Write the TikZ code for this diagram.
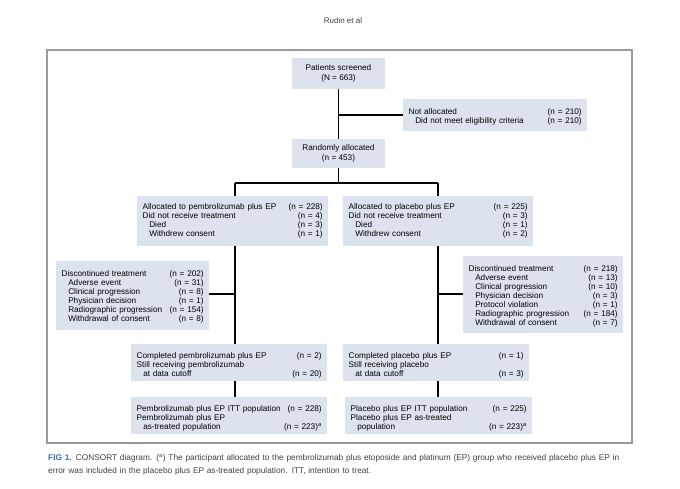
\documentclass[tikz,border=0pt]{standalone}
\usepackage{fontspec}
\setmainfont{Liberation Sans}
\definecolor{boxfill}{HTML}{DCE3EF}
\definecolor{figblue}{HTML}{2F6DB5}
\definecolor{framegray}{HTML}{9A9A9A}
\newcommand{\rw}[2]{\par\noindent\hbox to \linewidth{#1\hfill #2}}
\newcommand{\ind}{\hspace*{0.8em}}
\begin{document}
\begin{tikzpicture}[x=1pt,y=-1pt,
  cbox/.style={fill=none,draw=none,inner sep=0pt,font=\fontsize{8.2}{9.1}\selectfont,align=left},
  conn/.style={draw=black,line width=1.3pt},
  tbox/.style={font=\fontsize{8.2}{10.5}\selectfont,align=center}]
\useasboundingbox (0,0) rectangle (680,489);
\node[font=\fontsize{8}{9}\selectfont,color=black!75] (hdr) at (343,21) {Rudin et al};
\draw[framegray,line width=1.2pt] (47,50) rectangle (632,443);

\newcommand{\bx}[7]{% name x1 y1 x2 y2 topoffset content
  \fill[boxfill] (#2,#3) rectangle (#4,#5);
  \pgfmathsetmacro\tw{#4-#2-11}
  \node[cbox,anchor=north west,text width=\tw pt] (#1) at ({#2+5.5},{#3+#6}) {#7};
  \coordinate (#1-n) at ({(#2+#4)/2},#3);
  \coordinate (#1-s) at ({(#2+#4)/2},#5);
  \coordinate (#1-w) at (#2,{(#3+#5)/2});
  \coordinate (#1-e) at (#4,{(#3+#5)/2});
}
\fill[boxfill] (292,58) rectangle (385,89);
\node[tbox] (scr) at (338.5,73.5) {Patients screened\\(N = 663)};
\coordinate (scr-s) at (338.5,89);
\fill[boxfill] (292,139) rectangle (385,168);
\node[tbox] (rand) at (338.5,153.5) {Randomly allocated\\(n = 453)};
\coordinate (rand-n) at (338.5,139);
\coordinate (rand-s) at (338.5,168);

\bx{na}{403}{99}{587}{131}{6}{\rw{Not allocated}{(n = 210)}\rw{\ind Did not meet eligibility criteria}{(n = 210)}}

\bx{al}{137}{196}{328}{246}{4}{\rw{Allocated to pembrolizumab plus EP}{(n = 228)}\rw{Did not receive treatment}{(n = 4)}\rw{\ind Died}{(n = 3)}\rw{\ind Withdrew consent}{(n = 1)}}
\bx{ar}{343}{196}{533}{246}{4}{\rw{Allocated to placebo plus EP}{(n = 225)}\rw{Did not receive treatment}{(n = 3)}\rw{\ind Died}{(n = 1)}\rw{\ind Withdrew consent}{(n = 2)}}

\bx{dl}{56}{261}{209}{330}{6}{\rw{Discontinued treatment}{(n = 202)}\rw{\ind Adverse event}{(n = 31)}\rw{\ind Clinical progression}{(n = 8)}\rw{\ind Physician decision}{(n = 1)}\rw{\ind Radiographic progression}{(n = 154)}\rw{\ind Withdrawal of consent}{(n = 8)}}
\bx{dr}{463}{256}{623}{333}{6}{\rw{Discontinued treatment}{(n = 218)}\rw{\ind Adverse event}{(n = 13)}\rw{\ind Clinical progression}{(n = 10)}\rw{\ind Physician decision}{(n = 3)}\rw{\ind Protocol violation}{(n = 1)}\rw{\ind Radiographic progression}{(n = 184)}\rw{\ind Withdrawal of consent}{(n = 7)}}

\bx{cl}{131}{344}{327}{381}{5}{\rw{Completed pembrolizumab plus EP}{(n = 2)}\rw{Still receiving pembrolizumab}{}\rw{\ind at data cutoff}{(n = 20)}}
\bx{cr}{343}{344}{529}{381}{5}{\rw{Completed placebo plus EP}{(n = 1)}\rw{Still receiving placebo}{}\rw{\ind at data cutoff}{(n = 3)}}

\bx{pl}{131}{397}{327}{434}{5}{\rw{Pembrolizumab plus EP ITT population}{(n = 228)}\rw{Pembrolizumab plus EP}{}\rw{\ind as-treated population}{(n = 223)\textsuperscript{a}}}
\bx{pr}{345}{397}{532}{434}{5}{\rw{Placebo plus EP ITT population}{(n = 225)}\rw{Placebo plus EP as-treated}{}\rw{\ind population}{(n = 223)\textsuperscript{a}}}

% connectors
\coordinate (j1) at (scr-s|-na-w);
\draw[conn] (scr-s) -- (rand-n);
\draw[conn] (j1) -- (na-w);
\coordinate (j2) at (338.5,183);
\coordinate (jl) at (235,183);
\coordinate (jr) at (438,183);
\draw[conn] (rand-s) -- (j2);
\draw[conn] (jl) -- (jr);
\draw[conn] (jl) -- (jl|-al-n);
\draw[conn] (jr) -- (jr|-ar-n);
\draw[conn] (jl|-al-s) -- (jl|-cl-n);
\draw[conn] (jr|-ar-s) -- (jr|-cr-n);
\draw[conn] (jl|-cl-s) -- (jl|-pl-n);
\draw[conn] (jr|-cr-s) -- (jr|-pr-n);
\coordinate (dlj) at (235,294);
\coordinate (drj) at (438,294);
\draw[conn] (dlj) -- (dl-e|-dlj);
\draw[conn] (drj) -- (dr-w|-drj);

% caption
\node[anchor=north west,text width=586pt,font=\fontsize{8.3}{13.5}\selectfont,color=black!75,inner sep=0pt] (cap) at (48,454)
{{\color{figblue}\bfseries FIG 1.}\enspace CONSORT diagram. (\textsuperscript{a}) The participant allocated to the pembrolizumab plus etoposide and platinum (EP) group who received placebo plus EP in error was included in the placebo plus EP as-treated population. ITT, intention to treat.};
\end{tikzpicture}
\end{document}
